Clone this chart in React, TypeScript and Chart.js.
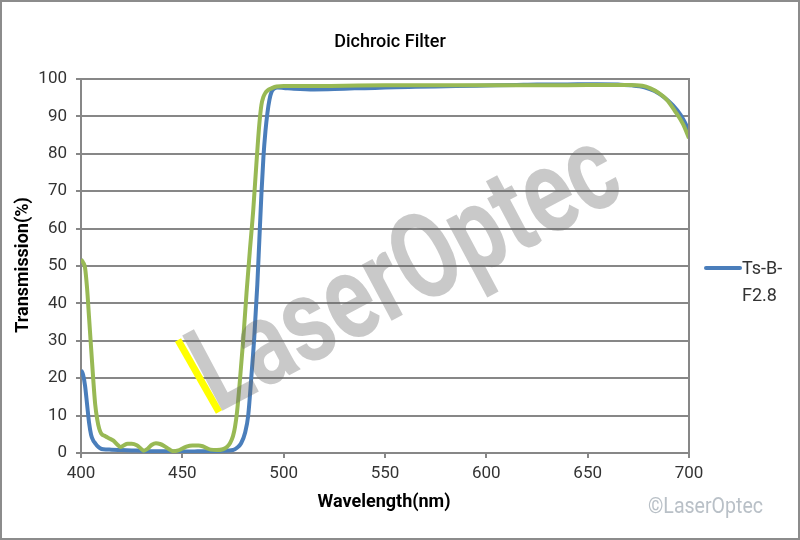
import React, { useEffect, useRef } from 'react';
import { Chart, registerables } from 'chart.js';

Chart.register(...registerables);

const chartTitle = 'Dichroic Filter';
const xAxisTitle = 'Wavelength(nm)';
const yAxisTitle = 'Transmission(%)';
const legendLines = ['Ts-B-', 'F2.8'];
const watermarkText = 'LaserOptec';
const copyrightText = '\u00A9LaserOptec';

const xMin = 400;
const xMax = 700;
const xStep = 50;
const yMin = 0;
const yMax = 100;
const yStep = 10;

// Blue series: Ts-B-F2.8
const blueWavelength = [
  400, 401, 402, 403, 404, 405, 406, 407, 408, 409.4, 411, 415, 420, 425, 430, 435, 440, 445,
  450, 455, 460, 465, 470, 475, 477, 479, 481, 482.5, 484, 485.5, 487, 488, 489, 490, 491, 492,
  493, 494, 495, 497, 500, 505, 515, 525, 535, 545, 555, 565, 575, 585, 595, 605, 615, 625, 635,
  645, 655, 665, 672, 678, 683, 688, 692, 696, 700,
];
const blueTransmission = [
  22.2, 21, 18, 13, 8, 4.8, 3.4, 2.6, 1.9, 1.3, 1, 0.9, 0.8, 0.7, 0.6, 0.5, 0.5, 0.4,
  0.4, 0.4, 0.5, 0.5, 0.6, 0.8, 1.4, 2.6, 5.5, 10, 20, 31, 45, 57, 69, 79, 86, 91,
  94.5, 96.5, 97.3, 97.7, 97.6, 97.4, 97.2, 97.3, 97.5, 97.6, 97.8, 97.9, 98, 98.1, 98.2, 98.3, 98.4, 98.5, 98.5,
  98.6, 98.6, 98.5, 98.3, 97.8, 96.8, 95, 93, 90.3, 86.3,
];

// Green series
const greenWavelength = [
  400, 401, 402, 403, 404, 405, 406, 407, 408, 409, 410, 412, 414, 416, 418, 419.5, 421, 423, 425,
  427.5, 429.5, 431, 433, 435, 437, 439, 441, 443.5, 445.5, 448, 450, 452, 455, 458, 460, 462,
  464, 467, 470, 472, 473.5, 475, 476, 477, 478.5, 480, 481.7, 483.3, 485, 486.5, 488, 489, 490,
  491, 492, 494, 496.5, 500, 510, 530, 550, 570, 590, 610, 630, 650, 670, 677, 681, 685, 689,
  693, 697, 700,
];
const greenTransmission = [
  51.8, 51, 49.5, 44, 36, 28, 20, 13, 9, 6.5, 5.2, 4.5, 3.9, 3.3, 2.2, 1.6, 2, 2.5, 2.5,
  2.1, 1.2, 0.6, 1.2, 2.2, 2.6, 2.4, 1.9, 1, 0.5, 0.7, 1.2, 1.7, 2, 2, 1.8, 1.3,
  0.9, 0.8, 1, 1.6, 2.6, 4.5, 7, 11, 20, 30, 43, 54, 65, 77, 88, 93, 95.2,
  96.3, 96.9, 97.5, 98, 98.1, 98.1, 98.2, 98.3, 98.3, 98.3, 98.3, 98.3, 98.4, 98.4, 98.2, 97.5, 96.3, 94.5,
  91.5, 88, 84.2,
];

const blueColor = '#4a7ebb';
const greenColor = '#98b954';
const gridColor = '#878787';
const textColor = '#333333';

const decorPlugin = {
  id: 'decor',
  beforeDraw(chart: any) {
    const ctx = chart.ctx;
    ctx.save();
    ctx.fillStyle = '#ffffff';
    ctx.fillRect(0, 0, chart.width, chart.height);
    ctx.restore();
  },
  afterDatasetsDraw(chart: any) {
    const ctx = chart.ctx;
    const area = chart.chartArea;
    ctx.save();
    // right border of plot area
    ctx.strokeStyle = gridColor;
    ctx.lineWidth = 2;
    ctx.beginPath();
    ctx.moveTo(area.right, area.top - 1);
    ctx.lineTo(area.right, area.bottom);
    ctx.stroke();

    // yellow marker stroke
    ctx.strokeStyle = '#ffff00';
    ctx.lineWidth = 7;
    ctx.beginPath();
    ctx.moveTo(178, 340);
    ctx.lineTo(219, 412);
    ctx.stroke();

    // watermark
    ctx.translate(222, 411);
    ctx.rotate((-28 * Math.PI) / 180);
    ctx.font = 'bold 120px Roboto';
    ctx.textBaseline = 'alphabetic';
    ctx.textAlign = 'left';
    const m = ctx.measureText(watermarkText);
    const w = m.actualBoundingBoxLeft + m.actualBoundingBoxRight;
    const sx = 458 / w;
    ctx.scale(sx, 1);
    ctx.fillStyle = 'rgba(100,100,100,0.35)';
    ctx.fillText(watermarkText, m.actualBoundingBoxLeft, 0);
    ctx.restore();
  },
  afterDraw(chart: any) {
    const ctx = chart.ctx;
    ctx.save();
    ctx.fillStyle = '#000000';
    ctx.textAlign = 'center';
    ctx.textBaseline = 'middle';
    ctx.font = '500 18px Roboto';
    ctx.fillText(chartTitle, 390, 42);

    ctx.font = 'bold 18px Roboto';
    ctx.fillText(xAxisTitle, 384, 502);
    ctx.save();
    ctx.translate(23, 265);
    ctx.rotate(-Math.PI / 2);
    ctx.fillText(yAxisTitle, 0, 0);
    ctx.restore();

    // legend
    ctx.strokeStyle = blueColor;
    ctx.lineWidth = 4;
    ctx.lineCap = 'round';
    ctx.beginPath();
    ctx.moveTo(706, 268);
    ctx.lineTo(740, 268);
    ctx.stroke();
    ctx.fillStyle = textColor;
    ctx.textAlign = 'left';
    ctx.font = '18px Roboto';
    ctx.fillText(legendLines[0], 742, 269);
    ctx.fillText(legendLines[1], 742, 296);

    // copyright
    ctx.font = '22px Roboto';
    ctx.textBaseline = 'alphabetic';
    const cm = ctx.measureText(copyrightText);
    ctx.translate(648, 513);
    ctx.scale(115 / cm.width, 1);
    ctx.fillStyle = '#b9c0c7';
    ctx.fillText(copyrightText, 0, 0);
    ctx.restore();

    // outer frame
    ctx.save();
    ctx.strokeStyle = '#8c8c8c';
    ctx.lineWidth = 2;
    ctx.strokeRect(1, 1, chart.width - 2, chart.height - 2);
    ctx.restore();
  },
};

export default function App() {
  const canvasRef = useRef<HTMLCanvasElement | null>(null);

  useEffect(() => {
    if (!canvasRef.current) return;
    const blueData = blueWavelength.map((x, i) => ({ x, y: blueTransmission[i] }));
    const greenData = greenWavelength.map((x, i) => ({ x, y: greenTransmission[i] }));
    const chart = new Chart(canvasRef.current, {
      type: 'line',
      data: {
        datasets: [
          {
            label: 'Ts-B-F2.8',
            data: blueData,
            borderColor: blueColor,
            backgroundColor: blueColor,
            borderWidth: 4,
            pointRadius: 0,
            cubicInterpolationMode: 'monotone',
            order: 1,
          },
          {
            label: 'Series 2',
            data: greenData,
            borderColor: greenColor,
            backgroundColor: greenColor,
            borderWidth: 4,
            pointRadius: 0,
            cubicInterpolationMode: 'monotone',
            order: 0,
          },
        ],
      },
      options: {
        responsive: false,
        animation: false,
        layout: { padding: { top: 79, right: 111, bottom: 0, left: 0 } },
        plugins: {
          legend: { display: false },
          title: { display: false },
          tooltip: { enabled: false },
        },
        scales: {
          x: {
            type: 'linear',
            min: xMin,
            max: xMax,
            ticks: {
              stepSize: xStep,
              color: textColor,
              font: { family: 'Roboto', size: 17 },
              padding: 6,
              maxRotation: 0,
            },
            grid: {
              drawOnChartArea: false,
              drawTicks: true,
              tickLength: 5,
              color: gridColor,
              lineWidth: 2,
            },
            border: { display: true, color: gridColor, width: 2 },
            afterFit(scale: any) {
              scale.height = 87;
            },
          },
          y: {
            min: yMin,
            max: yMax,
            ticks: {
              stepSize: yStep,
              color: textColor,
              font: { family: 'Roboto', size: 17 },
              padding: 9,
            },
            grid: {
              drawTicks: true,
              tickLength: 5,
              color: gridColor,
              lineWidth: 2,
            },
            border: { display: true, color: gridColor, width: 2 },
            afterFit(scale: any) {
              scale.width = 81;
            },
          },
        },
      },
      plugins: [decorPlugin],
    } as any);
    return () => chart.destroy();
  }, []);

  return (
    <div style={{ position: 'fixed', left: 0, top: 0, width: 800, height: 540 }}>
      <canvas ref={canvasRef} width={800} height={540} />
    </div>
  );
}
